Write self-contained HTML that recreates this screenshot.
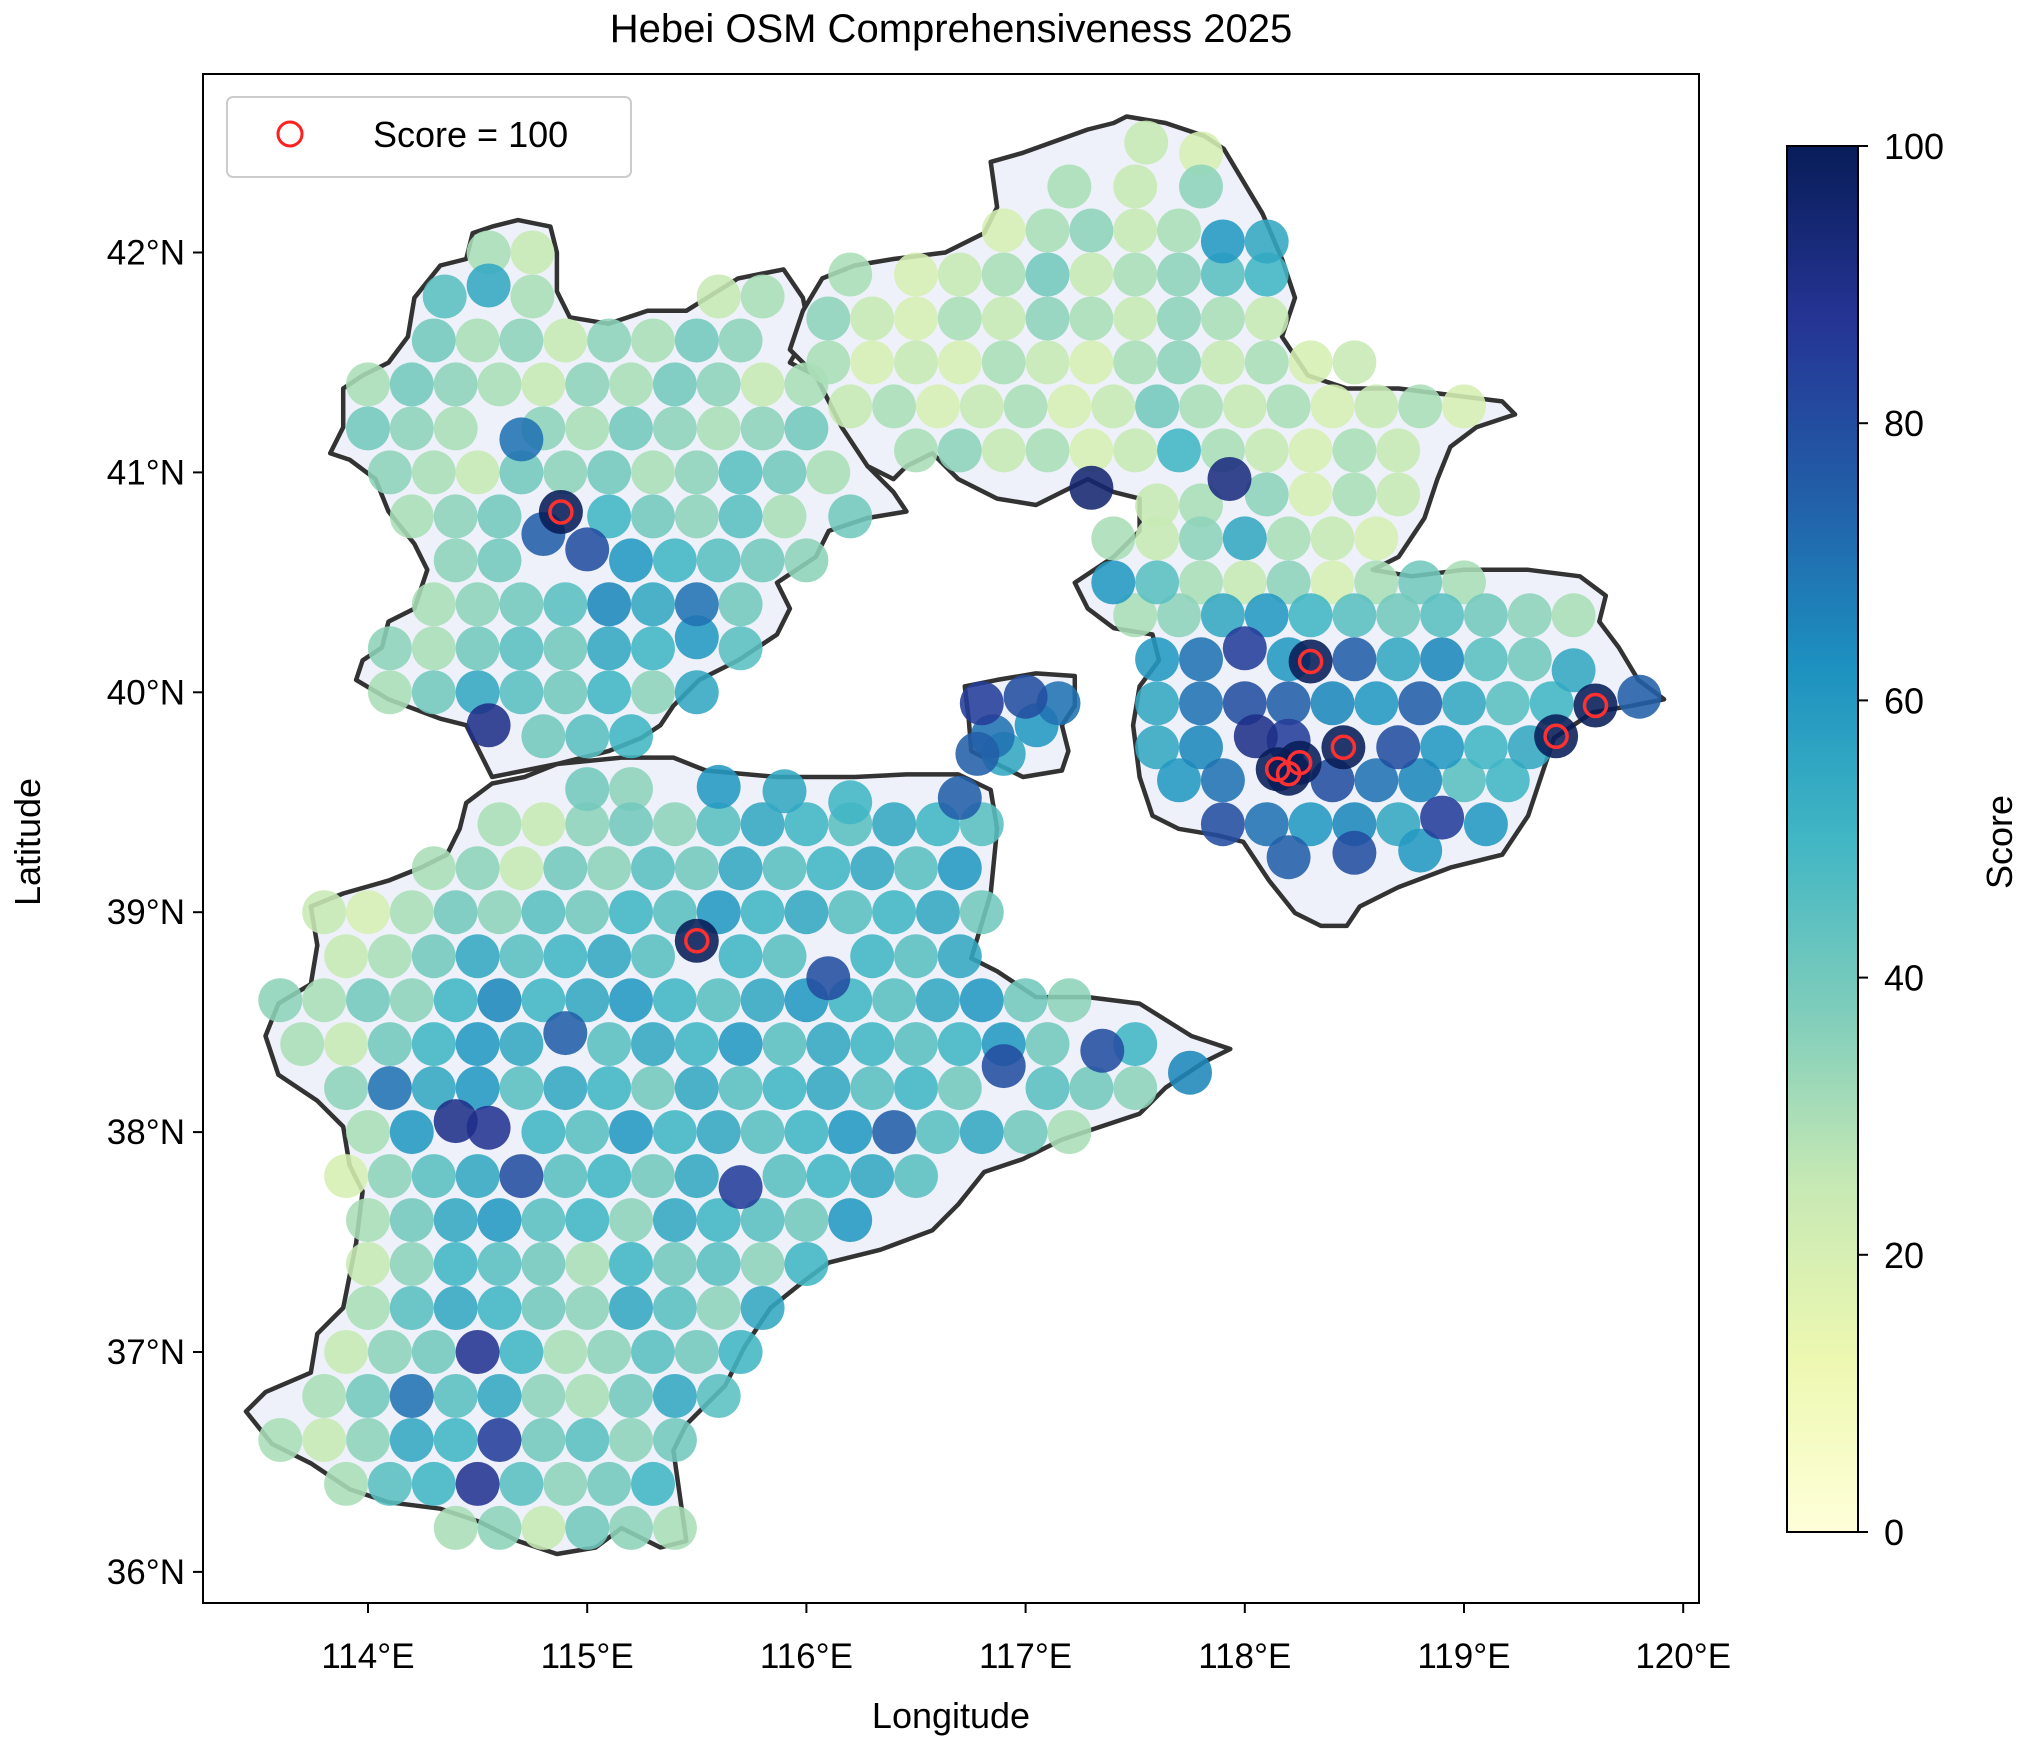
<!DOCTYPE html>
<html><head><meta charset="utf-8"><style>
html,body{margin:0;padding:0;background:#fff}
svg{display:block;font-family:"Liberation Sans","DejaVu Sans",sans-serif}
</style></head><body>
<svg id="chart" width="2024" height="1744" viewBox="0 0 2024 1744">
<defs>
<linearGradient id="cmap" x1="0" y1="1" x2="0" y2="0">
<stop offset="0" stop-color="#ffffd9"/><stop offset="0.125" stop-color="#edf8b1"/>
<stop offset="0.25" stop-color="#c7e9b4"/><stop offset="0.375" stop-color="#7fcdbb"/>
<stop offset="0.5" stop-color="#41b6c4"/><stop offset="0.625" stop-color="#1d91c0"/>
<stop offset="0.75" stop-color="#225ea8"/><stop offset="0.875" stop-color="#253494"/>
<stop offset="1" stop-color="#081d58"/></linearGradient>
<clipPath id="axclip"><rect x="203" y="74" width="1496" height="1529"/></clipPath>
</defs>
<text x="951" y="42" font-size="40" text-anchor="middle">Hebei OSM Comprehensiveness 2025</text>
<g id="map" clip-path="url(#axclip)"></g>
<g id="marks" clip-path="url(#axclip)"></g>
<rect x="203" y="74" width="1496" height="1529" fill="none" stroke="#000" stroke-width="2"/>
<g id="axes"></g>
<text x="951" y="1728" font-size="36" text-anchor="middle">Longitude</text>
<text x="40" y="842" font-size="36" text-anchor="middle" transform="rotate(-90 40 842)">Latitude</text>
<g>
<rect x="227" y="97" width="404" height="80" rx="6" fill="#fff" stroke="#ccc" stroke-width="2"/>
<circle cx="290" cy="134" r="12" fill="none" stroke="#ff2020" stroke-width="3"/>
<text x="373" y="147" font-size="36">Score = 100</text>
</g>
<g id="cbar">
<rect x="1787" y="146" width="71" height="1386" fill="url(#cmap)" stroke="#000" stroke-width="2"/>
</g>
<text x="2012" y="842" font-size="36" text-anchor="middle" transform="rotate(-90 2012 842)">Score</text>
</svg>
<script>
const xTicks=[114,115,116,117,118,119,120];
const yTicks=[36,37,38,39,40,41,42];
const cbarTicks=[0,20,40,60,80,100];
const southPts=[
[114.4,36.2,30],[114.6,36.2,35],[114.8,36.2,25],[115.0,36.2,40],[115.2,36.2,35],[115.4,36.2,30],
[113.9,36.4,30],[114.1,36.4,45],[114.3,36.4,50],[114.5,36.4,88],[114.7,36.4,45],[114.9,36.4,35],[115.1,36.4,40],[115.3,36.4,50],
[113.6,36.6,30],[113.8,36.6,25],[114.0,36.6,35],[114.2,36.6,55],[114.4,36.6,50],[114.6,36.6,85],[114.8,36.6,40],[115.0,36.6,45],[115.2,36.6,35],[115.4,36.6,40],
[113.8,36.8,30],[114.0,36.8,40],[114.2,36.8,70],[114.4,36.8,45],[114.6,36.8,55],[114.8,36.8,35],[115.0,36.8,30],[115.2,36.8,40],[115.4,36.8,55],[115.6,36.8,45],
[113.9,37.0,25],[114.1,37.0,35],[114.3,37.0,40],[114.5,37.0,88],[114.7,37.0,50],[114.9,37.0,30],[115.1,37.0,35],[115.3,37.0,45],[115.5,37.0,40],[115.7,37.0,50],
[114.0,37.2,30],[114.2,37.2,45],[114.4,37.2,55],[114.6,37.2,50],[114.8,37.2,40],[115.0,37.2,35],[115.2,37.2,55],[115.4,37.2,45],[115.6,37.2,35],[115.8,37.2,55],
[114.0,37.4,25],[114.2,37.4,35],[114.4,37.4,50],[114.6,37.4,45],[114.8,37.4,40],[115.0,37.4,30],[115.2,37.4,50],[115.4,37.4,40],[115.6,37.4,45],[115.8,37.4,35],[116.0,37.4,50],
[114.0,37.6,30],[114.2,37.6,40],[114.4,37.6,55],[114.6,37.6,60],[114.8,37.6,45],[115.0,37.6,50],[115.2,37.6,35],[115.4,37.6,55],[115.6,37.6,50],[115.8,37.6,45],[116.0,37.6,40],[116.2,37.6,60],
[113.9,37.8,20],[114.1,37.8,35],[114.3,37.8,45],[114.5,37.8,55],[114.7,37.8,80],[114.9,37.8,45],[115.1,37.8,50],[115.3,37.8,40],[115.5,37.8,55],[115.7,37.75,85],[115.9,37.8,45],[116.1,37.8,50],[116.3,37.8,55],[116.5,37.8,45],
[114.0,38.0,30],[114.2,38.0,60],[114.4,38.05,90],[114.55,38.02,88],[114.8,38.0,50],[115.0,38.0,45],[115.2,38.0,60],[115.4,38.0,50],[115.6,38.0,55],[115.8,38.0,45],[116.0,38.0,50],[116.2,38.0,60],[116.4,38.0,75],[116.6,38.0,45],[116.8,38.0,55],[117.0,38.0,40],[117.2,38.0,30],
[113.9,38.2,35],[114.1,38.2,70],[114.3,38.2,55],[114.5,38.2,60],[114.7,38.2,45],[114.9,38.2,55],[115.1,38.2,50],[115.3,38.2,40],[115.5,38.2,55],[115.7,38.2,45],[115.9,38.2,50],[116.1,38.2,55],[116.3,38.2,45],[116.5,38.2,50],[116.7,38.2,40],[116.9,38.3,80],[117.1,38.2,45],[117.3,38.2,40],[117.5,38.2,35],
[113.7,38.4,30],[113.9,38.4,25],[114.1,38.4,40],[114.3,38.4,50],[114.5,38.4,60],[114.7,38.4,55],[114.9,38.45,75],[115.1,38.4,45],[115.3,38.4,55],[115.5,38.4,50],[115.7,38.4,60],[115.9,38.4,45],[116.1,38.4,55],[116.3,38.4,50],[116.5,38.4,45],[116.7,38.4,50],[116.9,38.4,60],[117.1,38.4,40],[117.35,38.37,80],[117.5,38.4,50],[117.75,38.27,65],
[113.6,38.6,35],[113.8,38.6,30],[114.0,38.6,40],[114.2,38.6,35],[114.4,38.6,50],[114.6,38.6,65],[114.8,38.6,50],[115.0,38.6,55],[115.2,38.6,60],[115.4,38.6,50],[115.6,38.6,45],[115.8,38.6,55],[116.0,38.6,60],[116.2,38.6,50],[116.4,38.6,45],[116.6,38.6,55],[116.8,38.6,60],[117.0,38.6,40],[117.2,38.6,35],
[113.9,38.8,25],[114.1,38.8,30],[114.3,38.8,40],[114.5,38.8,55],[114.7,38.8,45],[114.9,38.8,50],[115.1,38.8,55],[115.3,38.8,45],[115.5,38.87,100],[115.7,38.8,50],[115.9,38.8,45],[116.1,38.7,80],[116.3,38.8,50],[116.5,38.8,45],[116.7,38.8,55],
[113.8,39.0,25],[114.0,39.0,20],[114.2,39.0,30],[114.4,39.0,40],[114.6,39.0,35],[114.8,39.0,45],[115.0,39.0,40],[115.2,39.0,50],[115.4,39.0,45],[115.6,39.0,60],[115.8,39.0,50],[116.0,39.0,55],[116.2,39.0,45],[116.4,39.0,50],[116.6,39.0,55],[116.8,39.0,40],
[114.3,39.2,30],[114.5,39.2,35],[114.7,39.2,25],[114.9,39.2,40],[115.1,39.2,35],[115.3,39.2,45],[115.5,39.2,40],[115.7,39.2,55],[115.9,39.2,45],[116.1,39.2,50],[116.3,39.2,55],[116.5,39.2,45],[116.7,39.2,60],
[114.6,39.4,30],[114.8,39.4,25],[115.0,39.4,35],[115.2,39.4,40],[115.4,39.4,35],[115.6,39.4,45],[115.8,39.4,55],[116.0,39.4,50],[116.2,39.4,45],[116.4,39.4,55],[116.6,39.4,50],[116.8,39.4,45],
[115.0,39.56,40],[115.2,39.56,35],[115.6,39.57,60],[115.9,39.55,55],[116.2,39.5,50],[116.7,39.52,75]
];
const zhangPts=[
[114.55,39.85,90],[114.8,39.8,40],[115.0,39.8,45],[115.2,39.8,50],
[114.1,40.0,30],[114.3,40.0,40],[114.5,40.0,55],[114.7,40.0,45],[114.9,40.0,40],[115.1,40.0,50],[115.3,40.0,35],[115.5,40.0,55],
[114.1,40.2,35],[114.3,40.2,30],[114.5,40.2,40],[114.7,40.2,45],[114.9,40.2,40],[115.1,40.2,55],[115.3,40.2,50],[115.5,40.25,60],[115.7,40.2,45],
[114.3,40.4,30],[114.5,40.4,35],[114.7,40.4,40],[114.9,40.4,45],[115.1,40.4,65],[115.3,40.4,55],[115.5,40.4,70],[115.7,40.4,40],
[114.4,40.6,35],[114.6,40.6,40],[114.8,40.72,75],[115.0,40.65,80],[115.2,40.6,60],[115.4,40.6,50],[115.6,40.6,45],[115.8,40.6,40],[116.0,40.6,35],
[114.2,40.8,30],[114.4,40.8,35],[114.6,40.8,40],[114.88,40.82,100],[115.1,40.8,50],[115.3,40.8,40],[115.5,40.8,35],[115.7,40.8,45],[115.9,40.8,30],[116.2,40.8,40],
[114.1,41.0,35],[114.3,41.0,30],[114.5,41.0,25],[114.7,41.0,40],[114.9,41.0,35],[115.1,41.0,40],[115.3,41.0,30],[115.5,41.0,35],[115.7,41.0,45],[115.9,41.0,40],[116.1,41.0,30],
[114.0,41.2,40],[114.2,41.2,35],[114.4,41.2,30],[114.7,41.15,70],[114.8,41.2,35],[115.0,41.2,30],[115.2,41.2,40],[115.4,41.2,35],[115.6,41.2,30],[115.8,41.2,35],[116.0,41.2,40],
[114.0,41.4,30],[114.2,41.4,40],[114.4,41.4,35],[114.6,41.4,30],[114.8,41.4,25],[115.0,41.4,35],[115.2,41.4,30],[115.4,41.4,40],[115.6,41.4,35],[115.8,41.4,25],[116.0,41.4,30],
[114.3,41.6,40],[114.5,41.6,30],[114.7,41.6,35],[114.9,41.6,25],[115.1,41.6,35],[115.3,41.6,30],[115.5,41.6,40],[115.7,41.6,35],
[114.35,41.8,45],[114.55,41.85,55],[114.75,41.8,30],[115.6,41.8,25],[115.8,41.8,30],
[114.55,42.0,30],[114.75,42.0,25]
];
const chengdePts=[
[117.55,42.5,25],[117.8,42.45,20],
[117.2,42.3,30],[117.5,42.3,25],[117.8,42.3,35],
[116.9,42.1,20],[117.1,42.1,30],[117.3,42.1,35],[117.5,42.1,25],[117.7,42.1,30],[117.9,42.05,60],[118.1,42.05,55],
[116.2,41.9,30],[116.5,41.9,20],[116.7,41.9,25],[116.9,41.9,30],[117.1,41.9,40],[117.3,41.9,25],[117.5,41.9,30],[117.7,41.9,35],[117.9,41.9,45],[118.1,41.9,50],
[116.1,41.7,35],[116.3,41.7,25],[116.5,41.7,20],[116.7,41.7,30],[116.9,41.7,25],[117.1,41.7,35],[117.3,41.7,30],[117.5,41.7,25],[117.7,41.7,35],[117.9,41.7,30],[118.1,41.7,25],
[116.1,41.5,30],[116.3,41.5,20],[116.5,41.5,25],[116.7,41.5,20],[116.9,41.5,30],[117.1,41.5,25],[117.3,41.5,20],[117.5,41.5,30],[117.7,41.5,35],[117.9,41.5,25],[118.1,41.5,30],[118.3,41.5,20],[118.5,41.5,25],
[116.2,41.3,25],[116.4,41.3,30],[116.6,41.3,20],[116.8,41.3,25],[117.0,41.3,30],[117.2,41.3,20],[117.4,41.3,25],[117.6,41.3,40],[117.8,41.3,30],[118.0,41.3,25],[118.2,41.3,30],[118.4,41.3,20],[118.6,41.3,25],[118.8,41.3,30],[119.0,41.3,20],
[116.5,41.1,30],[116.7,41.1,35],[116.9,41.1,25],[117.1,41.1,30],[117.3,41.1,20],[117.5,41.1,25],[117.7,41.1,50],[117.9,41.1,30],[118.1,41.1,25],[118.3,41.1,20],[118.5,41.1,30],[118.7,41.1,25],
[117.3,40.93,95],[117.93,40.97,92],
[117.6,40.85,25],[117.8,40.85,30],[118.1,40.9,35],[118.3,40.9,20],[118.5,40.9,30],[118.7,40.9,25],
[117.4,40.7,30],[117.6,40.7,25],[117.8,40.7,35],[118.0,40.7,55],[118.2,40.7,30],[118.4,40.7,25],[118.6,40.7,20],
[117.4,40.5,60],[117.6,40.5,45],[117.8,40.5,30],[118.0,40.5,25],[118.2,40.5,35],[118.4,40.5,20],[118.6,40.5,30],[118.8,40.5,40],[119.0,40.5,30]
];
const tangshanPts=[
[117.5,40.35,30],[117.7,40.35,35],[117.9,40.35,55],[118.1,40.35,60],[118.3,40.35,50],[118.5,40.35,45],[118.7,40.35,40],[118.9,40.35,45],[119.1,40.35,40],[119.3,40.35,35],[119.5,40.35,30],
[117.6,40.15,60],[117.8,40.15,70],[118.0,40.2,85],[118.2,40.15,60],[118.3,40.14,100],[118.5,40.15,75],[118.7,40.15,55],[118.9,40.15,65],[119.1,40.15,45],[119.3,40.15,40],[119.5,40.1,55],
[117.6,39.95,55],[117.8,39.95,70],[118.0,39.95,80],[118.2,39.95,75],[118.4,39.95,65],[118.6,39.95,60],[118.8,39.95,75],[119.0,39.95,55],[119.2,39.95,45],[119.4,39.95,50],[119.6,39.94,100],[119.8,39.98,75],
[117.6,39.75,55],[117.8,39.75,65],[118.05,39.8,90],[118.2,39.78,85],[118.45,39.75,100],[118.7,39.75,80],[118.9,39.75,60],[119.1,39.75,50],[119.3,39.75,55],[119.42,39.8,100],
[117.7,39.6,60],[117.9,39.6,70],[118.15,39.65,100],[118.2,39.63,100],[118.25,39.68,100],[118.4,39.6,80],[118.6,39.6,70],[118.8,39.6,65],[119.0,39.6,45],[119.2,39.6,50],
[117.9,39.4,80],[118.1,39.4,70],[118.3,39.4,60],[118.5,39.4,65],[118.7,39.4,55],[118.9,39.43,85],[119.1,39.4,60],
[118.2,39.25,75],[118.5,39.27,80],[118.8,39.28,60]
];
const sanhePts=[[116.8,39.95,85],[117.0,39.98,80],[116.85,39.8,70],[117.05,39.85,60],[116.9,39.72,55],[117.15,39.95,70],[116.78,39.72,75]];

function xs(lon){return 368+(lon-114)*219.2;}
function ys(lat){return 252.5+(42-lat)*219.9;}
function cy(v){return 1532-(v/100)*1386;}
const stops=[[0,[255,255,217]],[12.5,[237,248,177]],[25,[199,233,180]],[37.5,[127,205,187]],[50,[65,182,196]],[62.5,[29,145,192]],[75,[34,94,168]],[87.5,[37,52,148]],[100,[8,29,88]]];
function color(v){
  for(let i=0;i<stops.length-1;i++){
    const a=stops[i],b=stops[i+1];
    if(v<=b[0]){const t=(v-a[0])/(b[0]-a[0]);
      return 'rgb('+a[1].map((c,k)=>Math.round(c+(b[1][k]-c)*t)).join(',')+')';}
  }
  return 'rgb(8,29,88)';
}
const NS='http://www.w3.org/2000/svg';
function mk(tag,attrs,parent){const e=document.createElementNS(NS,tag);for(const k in attrs)e.setAttribute(k,attrs[k]);parent.appendChild(e);return e;}

const S=1.295;
const outlines={
south:[[190,1090],[205,1075],[240,1060],[245,1030],[265,1010],[275,960],[280,920],[270,900],[265,870],[245,850],[215,830],[205,800],[215,775],[240,760],[245,730],[240,700],[265,690],[300,680],[325,670],[345,660],[355,640],[360,620],[380,605],[405,600],[430,590],[480,585],[520,585],[545,595],[600,600],[660,600],[700,598],[740,598],[765,610],[770,640],[765,690],[750,740],[770,750],[800,770],[840,770],[880,775],[920,800],[950,810],[930,820],[900,840],[880,860],[850,870],[820,880],[790,895],[760,905],[740,930],[720,950],[680,965],[640,975],[620,990],[595,1010],[575,1040],[560,1070],[530,1100],[520,1120],[530,1190],[510,1195],[480,1180],[460,1195],[430,1200],[400,1190],[370,1175],[340,1165],[300,1160],[270,1150],[240,1130],[210,1115]],
zhang:[[380,600],[360,560],[340,555],[300,540],[275,525],[280,510],[295,500],[300,480],[320,470],[330,440],[320,420],[300,395],[290,370],[270,355],[255,350],[265,330],[265,300],[280,290],[300,280],[315,260],[320,230],[340,205],[360,200],[365,180],[380,175],[400,170],[425,175],[430,195],[430,225],[440,245],[470,250],[500,240],[530,240],[570,215],[605,208],[620,230],[625,255],[610,280],[630,290],[640,310],[660,330],[670,360],[690,380],[700,395],[670,400],[640,410],[630,430],[600,450],[610,470],[600,490],[570,510],[540,525],[520,545],[510,560],[495,570],[470,580],[430,590]],
chengde:[[610,270],[620,240],[635,215],[660,205],[690,200],[730,195],[760,180],[770,160],[765,125],[790,118],[840,100],[860,95],[870,90],[900,95],[930,105],[945,115],[960,140],[975,165],[990,200],[1000,230],[990,260],[1010,290],[1040,300],[1080,300],[1120,305],[1160,310],[1170,320],[1140,330],[1120,345],[1110,370],[1100,400],[1080,430],[1060,440],[1090,445],[1130,440],[1180,440],[1220,445],[1240,460],[1235,480],[1250,500],[1265,525],[1285,540],[1260,545],[1230,550],[1200,570],[1190,600],[1180,630],[1160,660],[1120,670],[1080,685],[1050,700],[1040,715],[1020,715],[1000,705],[980,680],[960,650],[940,645],[910,640],[890,630],[880,600],[875,560],[880,530],[895,510],[890,490],[860,485],[840,470],[830,450],[860,430],[880,410],[880,385],[860,380],[840,370],[800,390],[770,385],[740,370],[720,350],[700,360],[690,370],[670,360],[650,330],[630,290]],
sanhe:[[745,530],[770,525],[800,520],[830,522],[830,545],[820,560],[825,580],[820,595],[790,600],[770,590],[750,580],[748,555]]
};
const mapG=document.getElementById('map');
for(const k in outlines){
  const p=mk('polygon',{points:outlines[k].map(q=>(q[0]*S).toFixed(1)+','+(q[1]*S).toFixed(1)).join(' '),fill:'#eef1f9',stroke:'#333',
    'stroke-width':4.5,'stroke-linejoin':'round'},mapG);
  
  
}

const marks=document.getElementById('marks');
const all=[].concat(zhangPts,chengdePts,southPts,sanhePts,tangshanPts);
all.slice().sort((a,b)=>a[2]-b[2]).forEach(p=>{
  const c=mk('circle',{cx:xs(p[0]).toFixed(1),cy:ys(p[1]).toFixed(1),r:22,fill:color(p[2]),'fill-opacity':0.88},marks);
  
  
});
all.filter(p=>p[2]===100).forEach(p=>{
  const c=mk('circle',{cx:xs(p[0]).toFixed(1),cy:ys(p[1]).toFixed(1),r:11,fill:'none',stroke:'#ff3030','stroke-width':3.5},marks);
  
  
});

const ax=document.getElementById('axes');
xTicks.forEach(t=>{
  const x=xs(t);
  const l=mk('line',{x1:x,y1:1603,x2:x,y2:1613,stroke:'#000','stroke-width':2},ax);
  
  
  const tx=mk('text',{x:x,y:1668,'font-size':35,'text-anchor':'middle'},ax);
  tx.textContent=t+'°E';
  
  
});
yTicks.forEach(t=>{
  const y=ys(t);
  const l=mk('line',{x1:193,y1:y,x2:203,y2:y,stroke:'#000','stroke-width':2},ax);
  
  
  const tx=mk('text',{x:185,y:y+12,'font-size':35,'text-anchor':'end'},ax);
  tx.textContent=t+'°N';
  
  
});
const cb=document.getElementById('cbar');
cbarTicks.forEach(t=>{
  const y=cy(t);
  const l=mk('line',{x1:1858,y1:y,x2:1868,y2:y,stroke:'#000','stroke-width':2},cb);
  
  
  const tx=mk('text',{x:1884,y:y+13,'font-size':36},cb);
  tx.textContent=t;
  
  
});
</script>
</body></html>
